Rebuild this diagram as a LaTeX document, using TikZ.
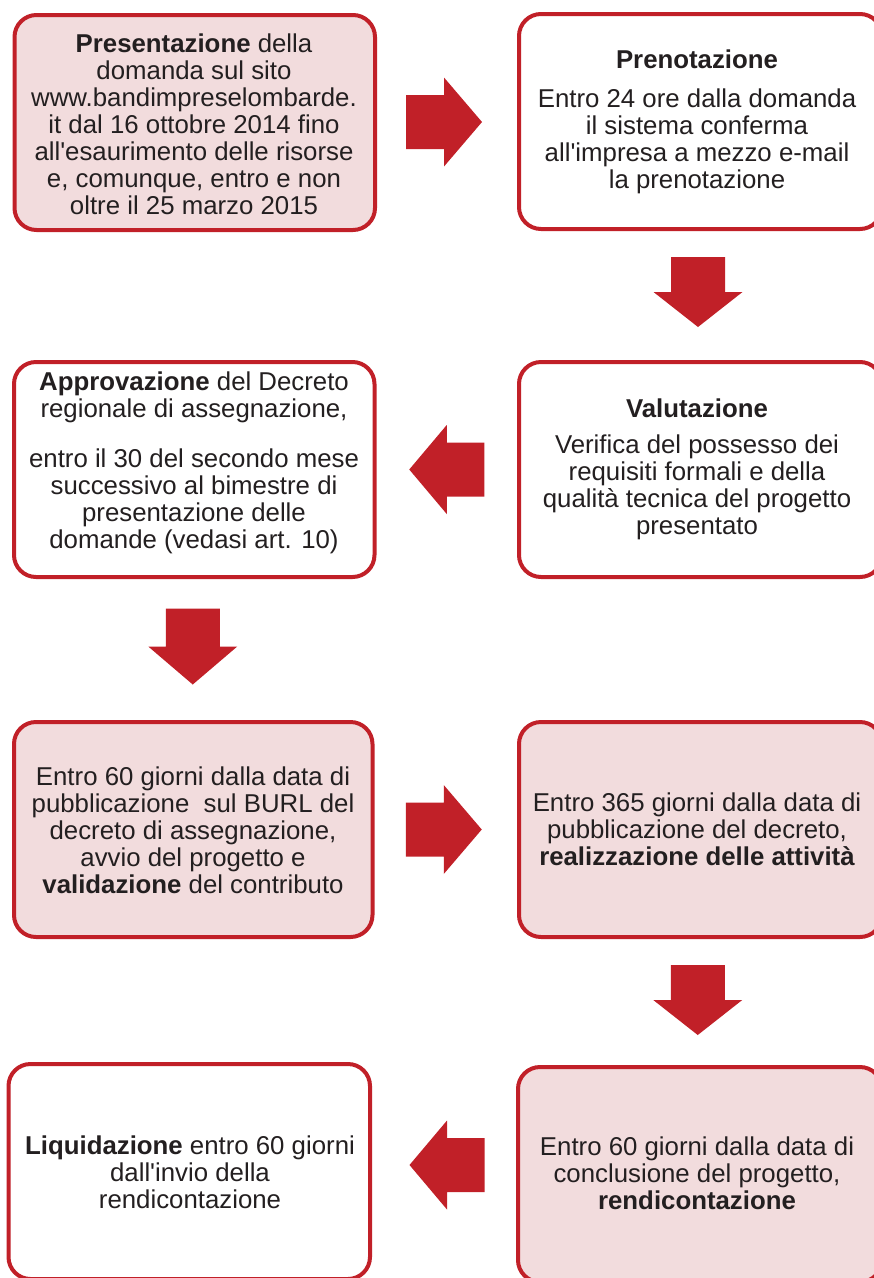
\documentclass[tikz,border=0pt]{standalone}
\usepackage{fontspec}
\setmainfont{Liberation Sans}
\usetikzlibrary{calc}
\definecolor{myred}{RGB}{193,32,40}
\definecolor{mypink}{RGB}{242,220,221}
\definecolor{mytext}{RGB}{35,31,32}
\newcommand\blockarrow[3]{%
  \fill[arrowfill, shift={(#1)}, rotate=#2] (-#3,-27) -- (0,-27) -- (0,-44.5) -- (#3,0) -- (0,44.5) -- (0,27) -- (-#3,27) -- cycle;}
\tikzset{
  box/.style={draw=myred, line width=4pt, rounded corners=22pt, inner sep=0pt, rectangle, fill=white},
  pinkbox/.style={box, fill=mypink},
  txt/.style={align=center, font=\fontsize{25.8}{27}\selectfont, text=mytext, inner sep=0pt},
  arrowfill/.style={fill=myred}
}
\begin{document}
\begin{tikzpicture}[x=1pt,y=-1pt]
\useasboundingbox (0,0) rectangle (874,1278);
\clip (0,0) rectangle (874,1278);
% boxes
\node[pinkbox, minimum width=360.5, minimum height=215] (b1) at (194.75,122.5) {};
\node[box, minimum width=363, minimum height=215] (b2) at (700.5,121.5) {};
\node[box, minimum width=360.5, minimum height=215] (b3) at (194.25,469.5) {};
\node[box, minimum width=363, minimum height=215] (b4) at (700.5,469.5) {};
\node[pinkbox, minimum width=358.5, minimum height=215] (b5) at (193.25,829.5) {};
\node[pinkbox, minimum width=363, minimum height=215] (b6) at (700.5,829.5) {};
\node[box, minimum width=361.5, minimum height=215] (b7) at (189.25,1171.5) {};
\node[pinkbox, minimum width=364, minimum height=215] (b8) at (700,1174.5) {};
% texts
\node[txt] (t1) at (194,124) {\textbf{Presentazione} della\\domanda sul sito\\www.bandimpreselombarde.\\it dal 16 ottobre 2014 fino\\all\textquotesingle esaurimento delle risorse\\e, comunque, entro e non\\oltre il 25 marzo 2015};
\node[txt] (t2) at (697,122) {\textbf{Prenotazione}\\[12pt]Entro 24 ore dalla domanda\\il sistema conferma\\all\textquotesingle impresa a mezzo e-mail\\la prenotazione};
\node[txt] (t3) at (194,463) {\textbf{Approvazione} del Decreto\\regionale di assegnazione,\\[23pt]entro il 30 del secondo mese\\successivo al bimestre di\\presentazione delle\\domande (vedasi art. 10)};
\node[txt] (t4) at (697,469) {\textbf{Valutazione}\\[9pt]Verifica del possesso dei\\requisiti formali e della\\qualità tecnica del progetto\\presentato};
\node[txt] (t5) at (193,830) {Entro 60 giorni dalla data di\\pubblicazione\ \ sul BURL del\\decreto di assegnazione,\\avvio del progetto e\\\textbf{validazione} del contributo};
\node[txt] (t6) at (697,829) {Entro 365 giorni dalla data di\\pubblicazione del decreto,\\\textbf{realizzazione delle attività}};
\node[txt] (t7) at (190,1172) {\textbf{Liquidazione} entro 60 giorni\\dall\textquotesingle invio della\\rendicontazione};
\node[txt] (t8) at (697,1173) {Entro 60 giorni dalla data di\\conclusione del progetto,\\\textbf{rendicontazione}};
% connector arrows
\coordinate (a1) at ($(b1.east)!0.5!(b2.west)+(-3,0)$);
\coordinate (a2) at ($(b2.south)!0.5!(b4.north)+(-2.5,-3.5)$);
\coordinate (a3) at ($(b4.west)!0.5!(b3.east)$);
\coordinate (a4) at ($(b3.south)!0.5!(b5.north)+(-1,-3)$);
\coordinate (a5) at ($(b5.east)!0.5!(b6.west)+(-2,0)$);
\coordinate (a6) at ($(b6.south)!0.5!(b8.north)+(-2.5,-2)$);
\coordinate (a7) at ($(b8.west)!0.5!(b7.east)+(3,-8)$);
\blockarrow{a1}{0}{38}
\blockarrow{a2}{-90}{35}
\blockarrow{a3}{180}{37.5}
\blockarrow{a4}{-90}{38}
\blockarrow{a5}{0}{38}
\blockarrow{a6}{-90}{35}
\blockarrow{a7}{180}{37.5}
\end{tikzpicture}
\end{document}
